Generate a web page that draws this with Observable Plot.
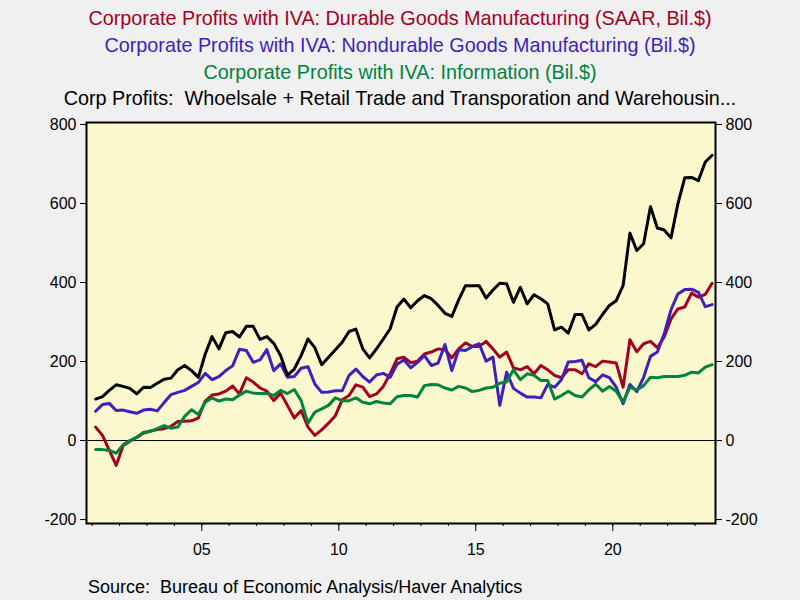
<!DOCTYPE html>
<html>
<head>
<meta charset="utf-8">
<script src="https://cdn.jsdelivr.net/npm/d3@7"></script>
<script src="https://cdn.jsdelivr.net/npm/@observablehq/plot@0.6"></script>
<style>
  html, body { margin: 0; padding: 0; background: #F0F0F0; }
  #wrap { position: relative; width: 800px; height: 600px; background: #F0F0F0; font-family: "Liberation Sans", Arial, sans-serif; overflow: hidden; }
  .t { position: absolute; left: 0; width: 800px; text-align: center; font-size: 19.8px; line-height: 20px; white-space: nowrap; }
  #chart { position: absolute; left: 0; top: 0; }
  #src { position: absolute; left: 88px; top: 577px; font-size: 18px; line-height: 20px; color: #000; }
</style>
</head>
<body>
<div id="wrap">
  <div id="chart"></div>
  <div class="t" id="t1" style="top:8px;color:#A50021">Corporate Profits with IVA: Durable Goods Manufacturing (SAAR, Bil.$)</div>
  <div class="t" id="t2" style="top:35px;color:#3F1FBF">Corporate Profits with IVA: Nondurable Goods Manufacturing (Bil.$)</div>
  <div class="t" id="t3" style="top:62px;color:#00843D">Corporate Profits with IVA: Information (Bil.$)</div>
  <div class="t" id="t4" style="top:88px;color:#000000">Corp Profits:&nbsp; Whoelsale + Retail Trade and Transporation and Warehousin...</div>
  <div id="src">Source:&nbsp; Bureau of Economic Analysis/Haver Analytics</div>
</div>
<script>
// Quarterly data, 2001Q1 .. 2023Q3 (Bil.$)
const startYear = 2001;
const durable = [34,13,-25,-63,-13,-2,8,19,24,28,30,36,48,49,50,57,100,115,118,125,138,118,159,148,133,125,101,120,89,57,76,34,13,27,44,63,103,114,141,135,111,118,137,169,207,211,197,201,219,224,232,230,209,232,247,238,238,251,232,211,224,184,179,187,169,190,179,165,159,179,179,169,194,187,201,199,196,135,255,225,245,251,235,262,308,333,338,373,363,370,398];
const nondurable = [74,91,94,76,77,73,69,77,79,75,96,116,122,127,137,147,170,154,162,177,189,231,228,198,204,230,177,194,160,162,183,187,143,122,123,126,126,165,181,162,148,166,170,160,193,204,184,198,215,190,196,243,177,230,228,238,245,201,211,89,173,132,120,110,110,108,142,135,154,199,200,203,159,149,166,159,135,93,142,124,160,213,224,270,331,371,382,383,375,339,344];
const information = [-23,-23,-25,-32,-11,0,8,21,23,30,38,31,34,61,78,66,97,108,100,105,103,115,125,120,119,119,114,127,119,129,101,44,72,80,89,108,101,101,108,97,93,99,95,93,111,114,114,110,139,142,141,133,128,137,133,124,127,133,135,145,148,179,154,169,165,152,152,105,114,125,114,110,128,143,125,137,125,97,135,128,139,160,159,162,162,162,165,173,171,186,192];
const tradeTransport = [105,111,127,141,137,132,118,135,134,145,155,158,179,190,177,160,219,263,232,273,276,262,289,289,256,263,246,215,165,181,215,257,235,192,211,230,249,276,282,232,209,232,257,283,338,358,336,354,367,359,342,322,314,356,392,392,392,361,381,398,397,350,388,346,369,359,346,280,287,272,319,319,280,294,319,342,354,392,525,481,498,592,538,533,513,599,665,666,658,705,722];

const seriesNames = ["Durable", "Nondurable", "Information", "TradeTransport"];
const seriesColors = ["#A50021", "#3F1FBF", "#00843D", "#000000"];
const yTicks = [-200, 0, 200, 400, 600, 800];
const xMajorTicks = [2005, 2010, 2015, 2020];
const xMinorTicks = d3.range(2001, 2024);

function toRows(values, name) {
  return values.map((v, i) => ({ t: startYear + (i + 0.5) / 4, v, name }));
}
const allSeries = [durable, nondurable, information, tradeTransport];
const rows = allSeries.map((s, k) => toRows(s, seriesNames[k]));

const fmtYear = d => String(d % 100).padStart(2, "0");
const fmtVal = d => String(d);

const chart = Plot.plot({
  width: 800,
  height: 600,
  marginTop: 122,
  marginBottom: 77,
  marginLeft: 86,
  marginRight: 85,
  style: { background: "transparent", fontFamily: "'Liberation Sans', Arial, sans-serif", fontSize: "16px", color: "#000" },
  x: { domain: [2000.792, 2023.748] },
  y: { domain: [-210, 805] },
  marks: [
    Plot.frame({ fill: "#FAF8CC" }),
    Plot.ruleY([0], { stroke: "#000", strokeWidth: 1 }),
    ...rows.map((r, k) => Plot.lineY(r, { x: "t", y: "v", stroke: seriesColors[k], strokeWidth: 3 })),
    Plot.frame({ stroke: "#000", strokeWidth: 2 }),
    Plot.axisY({ anchor: "left", ticks: yTicks, tickSize: 6, tickPadding: 4, tickFormat: fmtVal, label: null, fontSize: 16 }),
    Plot.axisY({ anchor: "right", ticks: yTicks, tickSize: 6, tickPadding: 4, tickFormat: fmtVal, label: null, fontSize: 16 }),
    Plot.axisX({ ticks: xMinorTicks, tickSize: 3, tickFormat: () => "", label: null }),
    Plot.axisX({ ticks: xMajorTicks, tickSize: 8, tickPadding: 12, tickFormat: fmtYear, label: null, fontSize: 16 })
  ]
});
document.getElementById("chart").appendChild(chart);
</script>
</body>
</html>
